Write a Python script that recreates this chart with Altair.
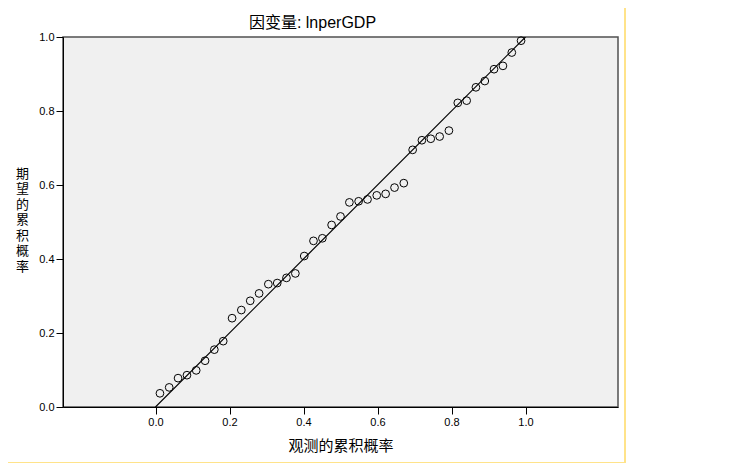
import altair as alt
import pandas as pd

# Observed cumulative probability (x) and expected cumulative probability (y)
observed = [0.012, 0.037, 0.061, 0.085, 0.110, 0.134, 0.159, 0.183, 0.207, 0.232,
            0.256, 0.280, 0.305, 0.329, 0.354, 0.378, 0.402, 0.427, 0.451, 0.476,
            0.500, 0.524, 0.549, 0.573, 0.598, 0.622, 0.646, 0.671, 0.695, 0.720,
            0.744, 0.768, 0.793, 0.817, 0.841, 0.866, 0.890, 0.915, 0.939, 0.963,
            0.988]
expected = [0.037, 0.053, 0.078, 0.086, 0.099, 0.125, 0.155, 0.178, 0.240, 0.262,
            0.287, 0.307, 0.332, 0.335, 0.349, 0.361, 0.408, 0.449, 0.456, 0.492,
            0.515, 0.553, 0.556, 0.561, 0.572, 0.576, 0.593, 0.605, 0.695, 0.721,
            0.725, 0.731, 0.747, 0.822, 0.828, 0.864, 0.881, 0.913, 0.922, 0.958,
            0.990]
ref_x = [0.0, 1.0]
ref_y = [0.0, 1.0]
tick_vals = [0.0, 0.2, 0.4, 0.6, 0.8, 1.0]

title_text = "因变量: lnperGDP"
x_title = "观测的累积概率"
y_title = list("期望的累积概率")

pts = pd.DataFrame({"obs": observed, "exp": expected})
ref = pd.DataFrame({"obs": ref_x, "exp": ref_y})

LAT = "Liberation Sans, Arial, Noto Sans CJK SC"
CJK = "Noto Sans CJK SC"

x_scale = alt.Scale(domain=[-0.25, 1.25], nice=False, zero=False)
y_scale = alt.Scale(domain=[0, 1], nice=False, zero=False)

x_axis = alt.Axis(values=tick_vals, format=".1f", title=x_title, grid=False,
                  titleFont=CJK, titleFontSize=15, titleFontWeight="normal",
                  titleColor="black", titleY=38, titleBaseline="middle")
y_axis = alt.Axis(values=tick_vals, format=".1f", title=y_title, grid=False,
                  titleFont=CJK, titleFontSize=13, titleFontWeight="normal",
                  titleColor="black", titleAngle=0, titleX=-41, titleY=136,
                  titleAlign="center", titleBaseline="middle", titleLineHeight=15.5)

line = alt.Chart(ref).mark_line(color="black", strokeWidth=1.2, clip=True).encode(
    x=alt.X("obs:Q", scale=x_scale, axis=x_axis),
    y=alt.Y("exp:Q", scale=y_scale, axis=y_axis),
)

points = alt.Chart(pts).mark_point(shape="circle", filled=False, color="black",
                                   size=60, strokeWidth=1, opacity=1).encode(
    x=alt.X("obs:Q", scale=x_scale),
    y=alt.Y("exp:Q", scale=y_scale),
)

frame_df = pd.DataFrame({"k": [0]})
yellow_v = alt.Chart(frame_df).mark_rule(color="#FFE38A", strokeWidth=2, clip=False).encode(
    x=alt.value(562), y=alt.value(-29), y2=alt.value(426)
)
yellow_h = alt.Chart(frame_df).mark_rule(color="#FFE38A", strokeWidth=2, clip=False).encode(
    x=alt.value(-55), x2=alt.value(563), y=alt.value(426)
)

chart = alt.layer(line, points, yellow_v, yellow_h).properties(
    width=555,
    height=370,
    title=alt.TitleParams(text=title_text, anchor="middle", frame="group", dx=-28,
                          dy=15, offset=-22, baseline="alphabetic", font=LAT, fontSize=16,
                          fontWeight="normal", color="black"),
    padding={"left": 55, "top": 29, "right": 103, "bottom": 56},
    autosize=alt.AutoSizeParams(type="none"),
    background="white",
).configure_view(
    fill="#F0F0F0", stroke="#505050", strokeWidth=1.5
).configure_axis(
    domainColor="black", domainWidth=1, tickColor="black", tickSize=7, tickWidth=1,
    labelFont=LAT, labelFontSize=11, labelColor="black", labelPadding=2,
)

chart.save("out.html", embed_options={"renderer": "svg", "actions": False})
